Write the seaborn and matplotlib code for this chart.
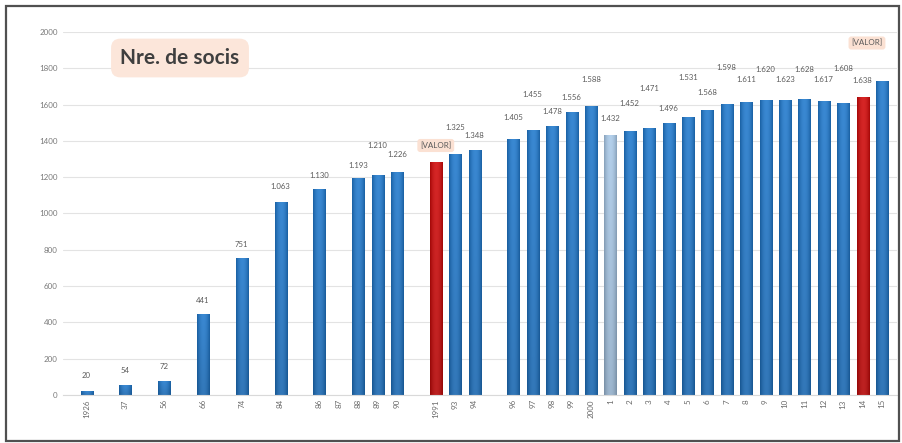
import numpy as np
import pandas as pd
import matplotlib
matplotlib.use("Agg")
import matplotlib.pyplot as plt
import matplotlib.colors as mcolors
from matplotlib.patches import Rectangle
import seaborn as sns

# Nombre de socis per any (les caselles buides deixen un espai a l'eix)
anys = ["1926", "", "37", "", "56", "", "66", "", "74", "", "84", "",
        "86", "87", "88", "89", "90", "", "1991", "93", "94", "",
        "96", "97", "98", "99", "2000", "1", "2", "3", "4", "5", "6",
        "7", "8", "9", "10", "11", "12", "13", "14", "15"]
socis = [20, None, 54, None, 72, None, 441, None, 751, None, 1063, None,
         1130, None, 1193, 1210, 1226, None, 1281, 1325, 1348, None,
         1405, 1455, 1478, 1556, 1588, 1432, 1452, 1471, 1496, 1531, 1568,
         1598, 1611, 1620, 1623, 1628, 1617, 1608, 1638, 1730]
tipus = ["normal"] * len(anys)
tipus[18] = "destacat"
tipus[40] = "destacat"
tipus[27] = "clar"
etiqueta_valor = {18: "[VALOR]", 41: "[VALOR]"}

# alçada de cada etiqueta sobre la barra (px) i desplaçaments laterals
alcada_etiqueta = [16, 0, 15, 0, 15, 0, 14, 0, 14, 0, 16, 0,
                   14, 0, 13, 30, 18, 0, 17, 27, 15, 0,
                   22, 36, 15, 15, 27, 17, 28, 40, 15, 40, 18,
                   37, 23, 31, 21, 30, 22, 35, 17, 38]
despl_x = {41: -15}

colors = {"normal": "#1f78cc", "destacat": "#d00808", "clar": "#a9c9e8"}

sns.set_theme(style="white")
plt.rcParams["font.family"] = ["Lato", "DejaVu Sans"]

W, H = 903, 443
fig = plt.figure(figsize=(W / 100, H / 100), dpi=100)
fig.patch.set_facecolor("white")

left_px, right_px, top_px, bot_px = 63.3, 897.5, 32, 395
ax = fig.add_axes([left_px / W, 1 - bot_px / H,
                   (right_px - left_px) / W, (bot_px - top_px) / H])

n = len(anys)
df = pd.DataFrame({"pos": list(range(n)), "socis": socis, "tipus": tipus})
sns.barplot(data=df, x="pos", y="socis", hue="tipus", order=list(range(n)),
            hue_order=["normal", "destacat", "clar"], palette=colors,
            dodge=False, width=0.62, saturation=1, legend=False, ax=ax,
            linewidth=0)

# ombrejat horitzontal de cada barra
prof = np.linspace(-1, 1, 64)
for patch in list(ax.patches):
    x0, y0 = patch.get_x(), patch.get_y()
    w, h = patch.get_width(), patch.get_height()
    if not np.isfinite(h) or h <= 0:
        continue
    base = np.array(mcolors.to_rgb(patch.get_facecolor()))
    t = np.abs(prof) ** 2.0
    light = base + (1 - base) * 0.12
    dark = base * 0.80
    row = light[None, :] * (1 - t[:, None]) + dark[None, :] * t[:, None]
    vert = np.linspace(0.88, 1.0, 32)[:, None, None]
    img = np.clip(row[None, :, :] * vert, 0, 1)
    ax.imshow(img, extent=[x0, x0 + w, y0, y0 + h], aspect="auto",
              origin="lower", zorder=patch.get_zorder() + 0.1,
              interpolation="bilinear")

# etiquetes de valor
for k, v in enumerate(socis):
    if v is None:
        continue
    off = (despl_x.get(k, 0) * 0.72, alcada_etiqueta[k] * 0.72)
    if k in etiqueta_valor:
        ax.annotate(etiqueta_valor[k], xy=(k, v), xytext=off,
                    textcoords="offset points", ha="center", va="center",
                    fontsize=5.8, color="#595959", zorder=5,
                    bbox=dict(boxstyle="round,pad=0.35", fc="#fbe1d3",
                              ec="none"))
    else:
        txt = f"{v:,}".replace(",", ".")
        ax.annotate(txt, xy=(k, v), xytext=off,
                    textcoords="offset points", ha="center", va="center",
                    fontsize=5.6, color="#5a5a5a", zorder=5)

ax.set_xlim(-1.2, 41.8)
ax.set_ylim(0, 2000)
ax.set_yticks(range(0, 2001, 200))
ax.set_yticklabels([str(v) for v in range(0, 2001, 200)], fontsize=5.8,
                   color="#7a7a7a")
ax.set_xticks(range(n))
ax.set_xticklabels(anys, rotation=90, fontsize=5.8, color="#6a6a6a")
ax.tick_params(axis="both", length=0)
ax.tick_params(axis="x", pad=3)
ax.tick_params(axis="y", pad=4)
ax.set_xlabel("")
ax.set_ylabel("")
ax.yaxis.grid(True, color="#e3e3e3", linewidth=0.8)
ax.set_axisbelow(True)
for s in ["left", "right", "top"]:
    ax.spines[s].set_visible(False)
ax.spines["bottom"].set_color("#d9d9d9")
ax.spines["bottom"].set_linewidth(0.8)
ax.set_facecolor("white")

# títol dins d'un requadre suau
fig.text(180 / W, 1 - 58 / H, "Nre. de socis", fontsize=15,
         fontweight="bold", color="#3f3f3f", ha="center", va="center",
         bbox=dict(boxstyle="round,pad=0.45", fc="#fce6da", ec="none"))

# marc exterior
fig.patches.append(Rectangle((6 / W, 1 - 441 / H), (899 - 6) / W,
                             (441 - 6) / H, transform=fig.transFigure,
                             fill=False, edgecolor="#505050", linewidth=1.6))

fig.savefig("out.png", dpi=100, facecolor="white")
